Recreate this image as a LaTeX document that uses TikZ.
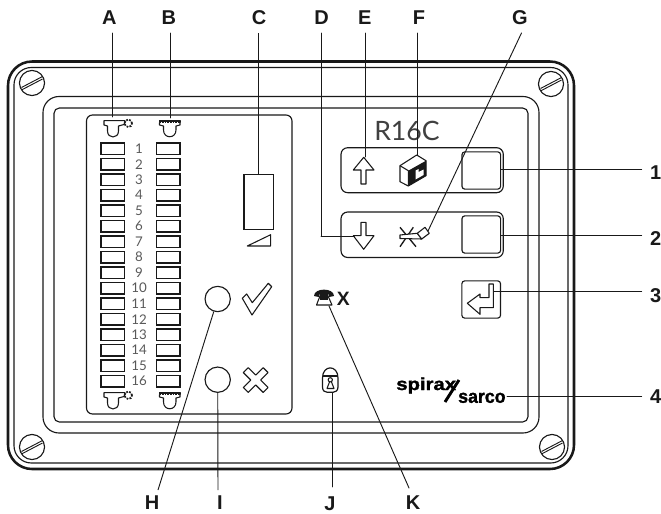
\documentclass[tikz,border=0pt]{standalone}
\usepackage{fontspec}
\setmainfont{Liberation Sans}
\newfontfamily\panelfont{Lato}
\newfontfamily\logofont[FakeBold=1.5]{Liberation Sans Bold}
\usepackage{tkz-euclide}
\definecolor{LineClr}{rgb}{0.1,0.1,0.1}
\tikzset{
  calllabel/.style={font=\fontsize{15}{15}\selectfont\bfseries,text=LineClr,inner sep=1pt},
  rownumber/.style={font=\panelfont\fontsize{10}{10}\selectfont,text=black!65,inner sep=0pt},
  framethin/.style={line width=.85pt,color=LineClr},
  ledbox/.style={draw=LineClr,line width=.95pt,minimum width=17.5pt,minimum height=8.6pt,inner sep=0pt},
  ledround/.style={circle,draw=LineClr,line width=.85pt,minimum size=19pt,inner sep=0pt},
  keybox/.style={draw=LineClr,line width=.85pt,rounded corners=2.2pt,minimum width=29pt,minimum height=28pt,inner sep=0pt},
  icon/.style={line width=.8pt,color=LineClr,line join=round}
}
\begin{document}
\begin{tikzpicture}[x=.75pt,y=-.75pt]
\useasboundingbox (0,0) rectangle (661,514);
\tkzSetUpLine[line width=.7pt,color=LineClr]

% housing
\draw[line width=1.9pt,color=LineClr,rounded corners=18pt] (8,61.5) rectangle (574,469);
\draw[framethin,rounded corners=13pt] (14,67.5) rectangle (568,463);
\draw[framethin,rounded corners=12pt] (43,96.5) rectangle (539,433);
\draw[framethin,rounded corners=4pt] (54,108) rectangle (528,422);
\draw[framethin,rounded corners=4.5pt] (86.5,115) rectangle (292,414);

% screws
\foreach \sx/\sy in {32/83,551/84,32/447,552/447}{
  \draw[framethin] (\sx,\sy) circle (9.4pt);
  \draw[line width=.7pt,color=LineClr] (\sx-10.5,\sy+4.5) -- (\sx+10.5,\sy-6.5);
  \draw[line width=.7pt,color=LineClr] (\sx-10.5,\sy+7) -- (\sx+10.5,\sy-4);
}

% led columns
\foreach \n in {1,...,16}{
  \node[ledbox] (ledL\n) at (112.7,{148.7+15.5*(\n-1)}) {};
  \node[ledbox] (ledR\n) at (168.3,{148.7+15.5*(\n-1)}) {};
  \node[rownumber] (num\n) at (139,{148.7+15.5*(\n-1)}) {\n};
}

% seal symbols, top and bottom row
\foreach \dy in {0,272}{
  \draw[icon] (104,120.7+\dy) -- (125,120.7+\dy) -- (124,124.5+\dy) -- (118.5,126+\dy) -- (118.5,131+\dy)
    .. controls (118.5,139+\dy) and (107.5,139+\dy) .. (107.5,131+\dy) -- (107.5,126+\dy) -- (104,125+\dy) -- cycle;
  \draw[icon,line width=1.3pt,densely dotted] (128.3,123.3+\dy) circle (2.8pt);
  \draw[icon,fill=LineClr] (159.5,120.7+\dy) rectangle (180,122.6+\dy);
  \draw[icon,white,line width=.6pt,dash pattern=on .8pt off 1.2pt] (161,122+\dy) -- (179,122+\dy);
  \draw[icon] (159.5,122.6+\dy) -- (159.5,125+\dy) -- (163.5,126+\dy) -- (163.5,130+\dy)
    .. controls (163.5,139+\dy) and (176,139+\dy) .. (176,130+\dy) -- (176,126+\dy) -- (180,125+\dy) -- (180,122.6+\dy);
}

% display and triangle
\node[draw=LineClr,line width=.95pt,minimum width=22pt,minimum height=41.5pt,inner sep=0pt] (display) at (258.7,202) {};
\draw[icon] (247.3,246) -- (270.7,246) -- (270.7,234.7) -- cycle;

% round leds, tick and cross
\node[ledround] (ledH) at (217.7,299) {};
\node[ledround] (ledI) at (217.7,379.7) {};
\draw[icon] (242.3,298.3) -- (246.7,294) -- (252.3,302.7) -- (268.3,283.3) -- (271.7,286.7) -- (252,315) -- cycle;
\draw[icon,shift={(255.7,380)},rotate=45] (-3.5,-14) -- (3.5,-14) -- (3.5,-3.5) -- (14,-3.5) -- (14,3.5) -- (3.5,3.5)
  -- (3.5,14) -- (-3.5,14) -- (-3.5,3.5) -- (-14,3.5) -- (-14,-3.5) -- (-3.5,-3.5) -- cycle;

% model name
\node[font=\panelfont\fontsize{20}{20}\selectfont,text=black!75,inner sep=0pt] (model) at (407,131) {R16C};

% key groups
\draw[framethin,rounded corners=5pt] (341,147.7) rectangle (503.3,192.7);
\draw[framethin,rounded corners=5pt] (341,212) rectangle (503.3,257.5);
\node[keybox] (keyUp) at (481.3,170.5) {};
\node[keybox] (keyDown) at (481.3,234.5) {};
\node[keybox] (keyEnter) at (481.2,299.5) {};

% arrows
\draw[icon] (363.7,157.3) -- (374,170) -- (366,170) -- (366,184) -- (361,184) -- (361,170) -- (353.3,170) -- cycle;
\draw[icon] (363.7,249.3) -- (374,235.7) -- (366,235.7) -- (366,222.3) -- (361,222.3) -- (361,235.7) -- (353.3,235.7) -- cycle;
\draw[icon] (467.3,303.3) -- (480,294) -- (480,297.7) -- (489,297.7) -- (489,284) -- (493.3,284) -- (493.3,307.7) -- (480,307.7) -- (480,314.3) -- cycle;

% box symbol
\draw[icon] (400,165.7) -- (416.7,155) -- (426,160.7) -- (426,175.7) -- (408.3,186) -- (400,181.7) -- cycle;
\draw[icon] (400,165.7) -- (408.3,170.7) -- (408.3,186);
\fill[LineClr] (408.3,170.7) -- (426,160.7) -- (426,175.7) -- (408.3,186) -- cycle;
\fill[white] (415.5,170.5) -- (418.5,169) -- (418.5,172) -- (423.5,169.5) -- (423.5,175) -- (415.5,179.5) -- cycle;

% crossed pen symbol
\draw[icon,line width=1pt] (400,227.3) -- (416,246.7);
\draw[icon,line width=1pt] (413.3,227.3) -- (400,246.7);
\draw[icon,fill=white] (400,235) -- (417.3,233.3) -- (421.7,239) -- (400,238.5) -- cycle;
\draw[icon,fill=white] (417.3,233.3) -- (425,227.3) -- (429.3,233.3) -- (421.7,239) -- cycle;

% telephone and lock
\fill[LineClr] (314,296) .. controls (314,287.5) and (334,287.5) .. (334,296) -- (329,297) -- (328,293) -- (320,293) -- (319,297) -- cycle;
\draw[icon] (320,296) -- (328,296) -- (332,305) -- (316.5,305) -- cycle;
\fill[LineClr] (320,293) rectangle (328,299.5);
\node[font=\fontsize{14.5}{14.5}\selectfont\bfseries,text=LineClr,inner sep=0pt] (phoneX) at (343.3,299) {X};
\draw[icon,line width=.9pt] (322.5,378) .. controls (322.5,364.5) and (338,364.5) .. (338,378) -- (338,387)
  .. controls (338,391) and (335,392.3) .. (333,392.3) -- (327.5,392.3) .. controls (325,392.3) and (322.5,391) .. (322.5,387) -- cycle;
\draw[icon] (322.5,376) -- (338,376);
\draw[icon] (330.3,379.8) circle (1.6pt);
\draw[icon] (329.5,382) -- (327,388.5) -- (334,388.5) -- (331.5,382);

% logo
\node[font=\logofont\fontsize{13}{13}\selectfont,xscale=1.17,text=black,inner sep=0pt,anchor=base west] (logoA) at (396,390) {spirax};
\node[font=\logofont\fontsize{14}{14}\selectfont,xscale=.95,text=black,inner sep=0pt,anchor=base west] (logoB) at (458,402.8) {sarco};
\draw[line width=2.2pt] (445,402) -- (459,380);

% call-out labels
\foreach \lab/\lx/\ly in {A/109.4/17.5,B/168.8/17.5,C/259/17.5,D/321.7/17.5,E/364.7/17.5,F/419/17.5,G/520/17.5,
  H/152/503,I/220/503,J/330/503.5,K/413/503}{
  \node[calllabel] (lbl\lab) at (\lx,\ly) {\lab};
}
\foreach \lab/\lx/\ly in {1/655.7/173,2/655.7/239,3/655.7/295.7,4/655.7/397}{
  \node[calllabel] (lbl\lab) at (\lx,\ly) {\lab};
}

% leader points
\tkzDefPoints{112/33/a,112/117/ae,170.5/33/b,170.5/118/be,258.7/33/c,365.7/33/e,365.7/157/ee,417.6/33/f,417.6/155/fe,
  321/33/d,321/236/dm,521.5/33/g,428/231/ge,158/490/h,218/490/i,332.5/392.5/jt,332.5/487/j,329/306/kt,409/488/k,
  641.7/169.3/o,641.7/235.3/t,641.7/291/r,494/291/rs,641.7/396/u,507/396/us,501/169.3/os,501/235.3/ts,354/236/de}

\tkzDrawSegments(a,ae b,be e,ee f,fe g,ge jt,j kt,k)
\tkzDrawSegments(d,dm dm,de os,o ts,t rs,r us,u)
\draw[line width=.7pt,color=LineClr] (c) -- (display.north);
\draw[line width=.7pt,color=LineClr] (ledH) -- (h);
\draw[line width=.7pt,color=LineClr] (ledI) -- (i);
\end{tikzpicture}
\end{document}
